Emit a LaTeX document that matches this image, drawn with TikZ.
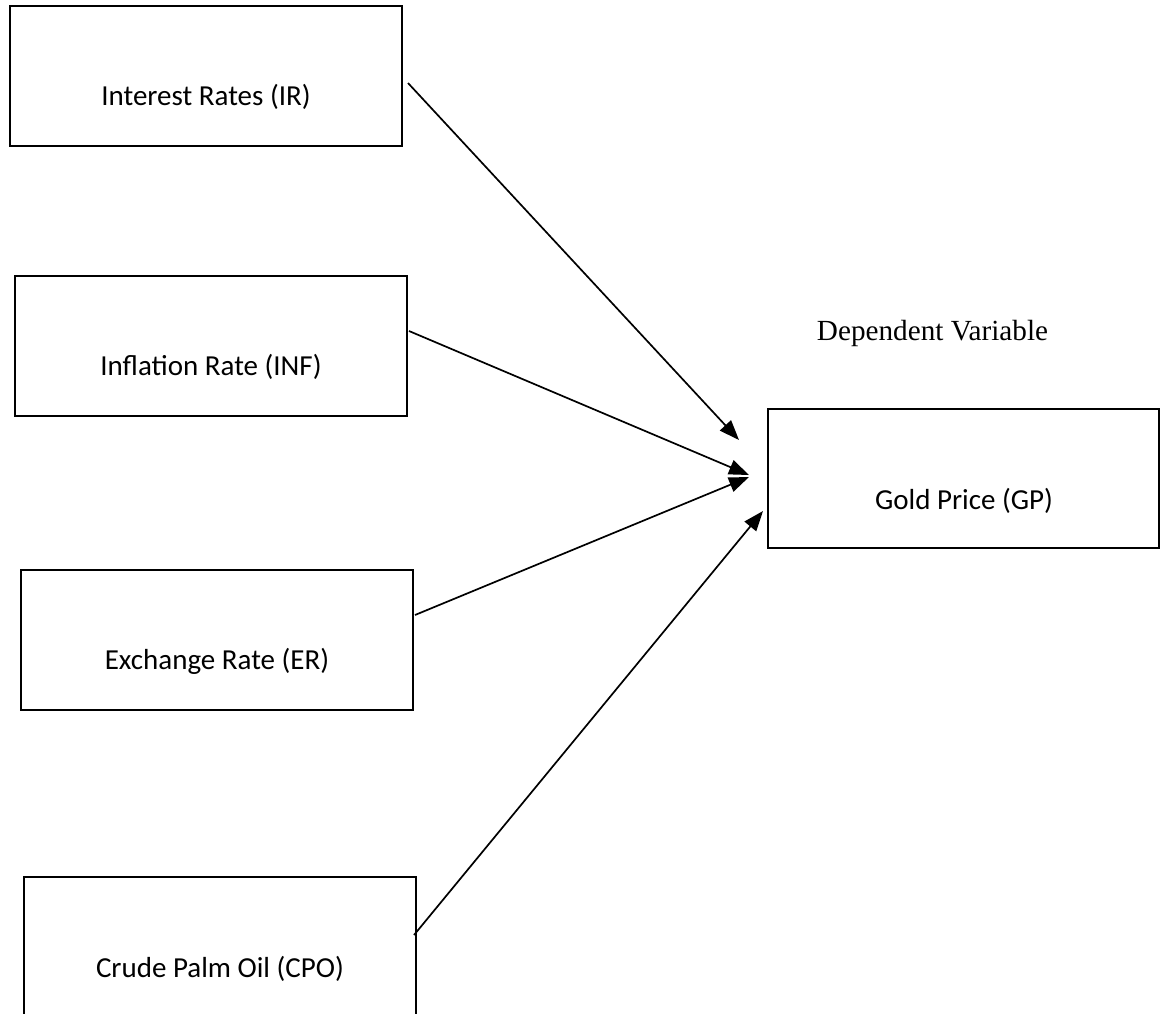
\documentclass[tikz,border=0pt]{standalone}
\usepackage{fontspec}
\setmainfont{Carlito}
\newfontfamily\serifdv{Liberation Serif}
\usetikzlibrary{arrows.meta}
\begin{document}
\begin{tikzpicture}[x=0.5pt,y=-0.5pt,
  box/.style={draw,line width=1pt,minimum width=196pt,minimum height=70pt,inner sep=0pt,outer sep=0pt},
  lbl/.style={anchor=base,inner sep=0pt,font=\fontsize{14.5}{17}\selectfont},
  arr/.style={line width=0.85pt,-{Triangle[length=10pt,width=7.5pt]}}]
\clip (0,0) rectangle (1166,1013);
\fill[white] (0,0) rectangle (1166,1013);
% boxes
\node[box] (ir)  at (206,76) {};
\node[box] (inf) at (211,346) {};
\node[box] (er)  at (217,640) {};
\node[box] (cpo) at (220,947) {};
\node[box,minimum width=195.5pt,minimum height=69.5pt] (gp) at (963.5,478.5) {};
% labels
\node[lbl] (irt)  at (206,105) {Interest Rates (IR)};
\node[lbl] (inft) at (211,375) {Inflation Rate (INF)};
\node[lbl] (ert)  at (217,669) {Exchange Rate (ER)};
\node[lbl] (cpot) at (220,977) {Crude Palm Oil (CPO)};
\node[lbl] (gpt)  at (964,509) {Gold Price (GP)};
\node[lbl,font=\serifdv\fontsize{14.6}{17}\selectfont] (dv) at (932.5,340) {Dependent Variable};
% connector ends
\coordinate (irs)  at ([shift={(6,7)}]ir.east);
\coordinate (infs) at ([shift={(2,-15)}]inf.east);
\coordinate (ers)  at ([shift={(2,-25)}]er.east);
\coordinate (cpos) at ([shift={(-2,-12)}]cpo.east);
\coordinate (irt2)  at ([shift={(-29,-38.5)}]gp.west);
\coordinate (inft2) at ([shift={(-19,-3.5)}]gp.west);
\coordinate (ert2)  at ([shift={(-19,-1.5)}]gp.west);
\coordinate (cpot2) at ([shift={(-5,32.5)}]gp.west);
% arrows
\draw[arr] (irs) -- (irt2);
\draw[arr] (infs) -- (inft2);
\draw[arr] (ers) -- (ert2);
\draw[arr] (cpos) -- (cpot2);
\end{tikzpicture}
\end{document}
